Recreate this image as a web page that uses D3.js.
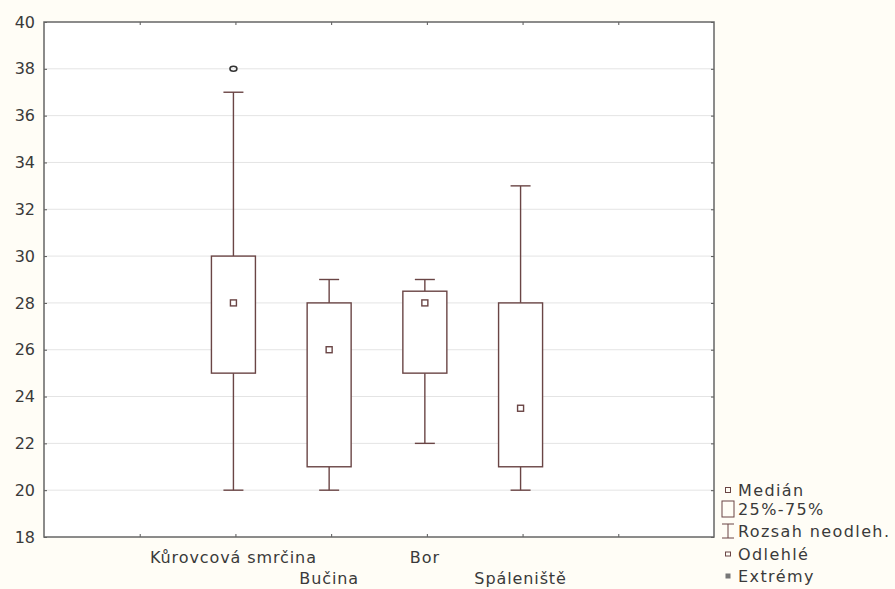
<!DOCTYPE html>
<html>
<head>
<meta charset="utf-8">
<script src="https://cdn.jsdelivr.net/npm/d3@7"></script>
<style>
  body { margin: 0; background: #fffdf6; }
  svg { display: block; font-family: "DejaVu Sans", Verdana, sans-serif; }
</style>
</head>
<body>
<div id="container"></div>
<script>
/* Data */
var categories = ["Kůrovcová smrčina", "Bučina", "Bor", "Spáleniště"];
var positions = [2, 3, 4, 5];
var mins = [20, 20, 22, 20];
var q1s = [25, 21, 25, 21];
var medians = [28, 26, 28, 23.5];
var q3s = [30, 28, 28.5, 28];
var maxs = [37, 29, 29, 33];
var outliers = [[0, 38]];
var yTicks = [18, 20, 22, 24, 26, 28, 30, 32, 34, 36, 38, 40];
var xTicks = [1, 2, 3, 4, 5, 6];
var legendLabels = ["Medián", "25%-75%", "Rozsah neodleh.", "Odlehlé", "Extrémy"];

var w = 895, h = 589;
var margin = {left: 44, right: 181, top: 22, bottom: 52};
var plotW = w - margin.left - margin.right,
	plotH = h - margin.top - margin.bottom;
var boxCol = "#6a4545",
	textCol = "#3a3a3a";

var svg = d3.select("#container").append("svg")
	.attr("width", w)
	.attr("height", h);

var g = svg.append("g")
	.attr("transform", "translate(" + margin.left + "," + margin.top + ")");

var xScale = d3.scaleLinear().domain([0, 7]).range([0, plotW]),
	yScale = d3.scaleLinear().domain([18, 40]).range([plotH, 0]);

/* plot background + grid */
g.append("rect").attr("width", plotW).attr("height", plotH).attr("fill", "#fff");

g.selectAll(".grid").data(yTicks.slice(1, -1)).enter().append("line")
	.attr("x1", 0).attr("x2", plotW)
	.attr("y1", d => yScale(d)).attr("y2", d => yScale(d))
	.attr("stroke", "#e4e4e4");

/* axes */
var yAxis = d3.axisLeft(yScale).tickValues(yTicks).tickSize(-3).tickPadding(9);
var xAxis = d3.axisBottom(xScale).tickValues(xTicks).tickSize(-3).tickFormat("");

g.append("g").call(yAxis)
	.call(a => a.select(".domain").remove())
	.selectAll("text").attr("font-size", 16).attr("font-family", "DejaVu Sans").attr("fill", textCol);
g.append("g").attr("transform", "translate(0," + plotH + ")").call(xAxis)
	.call(a => a.select(".domain").remove());
g.append("g").call(d3.axisTop(xScale).tickValues(xTicks).tickSize(-3).tickFormat(""))
	.call(a => a.select(".domain").remove());
g.append("g").attr("transform", "translate(" + plotW + ",0)")
	.call(d3.axisRight(yScale).tickValues(yTicks).tickSize(-3).tickFormat(""))
	.call(a => a.select(".domain").remove());
g.selectAll(".tick line").attr("stroke", "#555");

g.append("rect").attr("width", plotW).attr("height", plotH)
	.attr("fill", "none").attr("stroke", "#666").attr("stroke-width", 1.5);

/* category labels, alternating rows */
g.selectAll(".cat").data(categories).enter().append("text")
	.attr("x", (d, i) => xScale(positions[i]) - 2)
	.attr("y", (d, i) => plotH + (i % 2 ? 47 : 26))
	.attr("text-anchor", "middle")
	.attr("font-size", 16).attr("fill", textCol)
	.attr("letter-spacing", 0.9)
	.text(d => d);

/* boxes */
var boxW = 44, capW = 20;
var boxes = g.selectAll(".box").data(categories).enter().append("g")
	.attr("transform", (d, i) => "translate(" + (xScale(positions[i]) - 2) + ",0)");

boxes.append("line")
	.attr("y1", (d, i) => yScale(maxs[i])).attr("y2", (d, i) => yScale(q3s[i]))
	.attr("stroke", boxCol).attr("stroke-width", 1.4);
boxes.append("line")
	.attr("y1", (d, i) => yScale(q1s[i])).attr("y2", (d, i) => yScale(mins[i]))
	.attr("stroke", boxCol).attr("stroke-width", 1.4);
boxes.append("line")
	.attr("x1", -capW / 2).attr("x2", capW / 2)
	.attr("y1", (d, i) => yScale(maxs[i])).attr("y2", (d, i) => yScale(maxs[i]))
	.attr("stroke", boxCol).attr("stroke-width", 1.4);
boxes.append("line")
	.attr("x1", -capW / 2).attr("x2", capW / 2)
	.attr("y1", (d, i) => yScale(mins[i])).attr("y2", (d, i) => yScale(mins[i]))
	.attr("stroke", boxCol).attr("stroke-width", 1.4);
boxes.append("rect")
	.attr("x", -boxW / 2).attr("width", boxW)
	.attr("y", (d, i) => yScale(q3s[i]))
	.attr("height", (d, i) => yScale(q1s[i]) - yScale(q3s[i]))
	.attr("fill", "#fff").attr("stroke", boxCol).attr("stroke-width", 1.4);
boxes.append("rect")
	.attr("x", -3).attr("width", 6).attr("height", 6)
	.attr("y", (d, i) => yScale(medians[i]) - 3)
	.attr("fill", "none").attr("stroke", boxCol).attr("stroke-width", 1.4);

g.selectAll(".outlier").data(outliers).enter().append("ellipse")
	.attr("cx", d => xScale(positions[d[0]]) - 2)
	.attr("cy", d => yScale(d[1]))
	.attr("rx", 3.5).attr("ry", 2.5)
	.attr("fill", "none").attr("stroke", "#333").attr("stroke-width", 1.5);

/* legend */
var lg = svg.append("g").attr("transform", "translate(728,490)");
var rowY = [0, 19, 41, 64, 86];
lg.selectAll("text").data(legendLabels).enter().append("text")
	.attr("x", 10).attr("y", (d, i) => rowY[i] + 6)
	.attr("font-size", 16).attr("fill", textCol)
	.attr("letter-spacing", 1.4)
	.text(d => d);
lg.append("rect").attr("x", -2.5).attr("y", -2.5).attr("width", 5).attr("height", 5)
	.attr("fill", "none").attr("stroke", boxCol);
lg.append("rect").attr("x", -6).attr("y", rowY[1] - 8).attr("width", 12).attr("height", 16)
	.attr("fill", "none").attr("stroke", boxCol);
lg.append("path")
	.attr("d", "M-6," + (rowY[2] - 7) + "H6M0," + (rowY[2] - 7) + "V" + (rowY[2] + 7) + "M-6," + (rowY[2] + 7) + "H6")
	.attr("fill", "none").attr("stroke", boxCol);
lg.append("rect").attr("x", -2.5).attr("y", rowY[3] - 2).attr("width", 5).attr("height", 4)
	.attr("fill", "none").attr("stroke", boxCol);
lg.append("rect").attr("x", -2.5).attr("y", rowY[4] - 2.5).attr("width", 5).attr("height", 5)
	.attr("fill", "#777");
</script>
</body>
</html>
